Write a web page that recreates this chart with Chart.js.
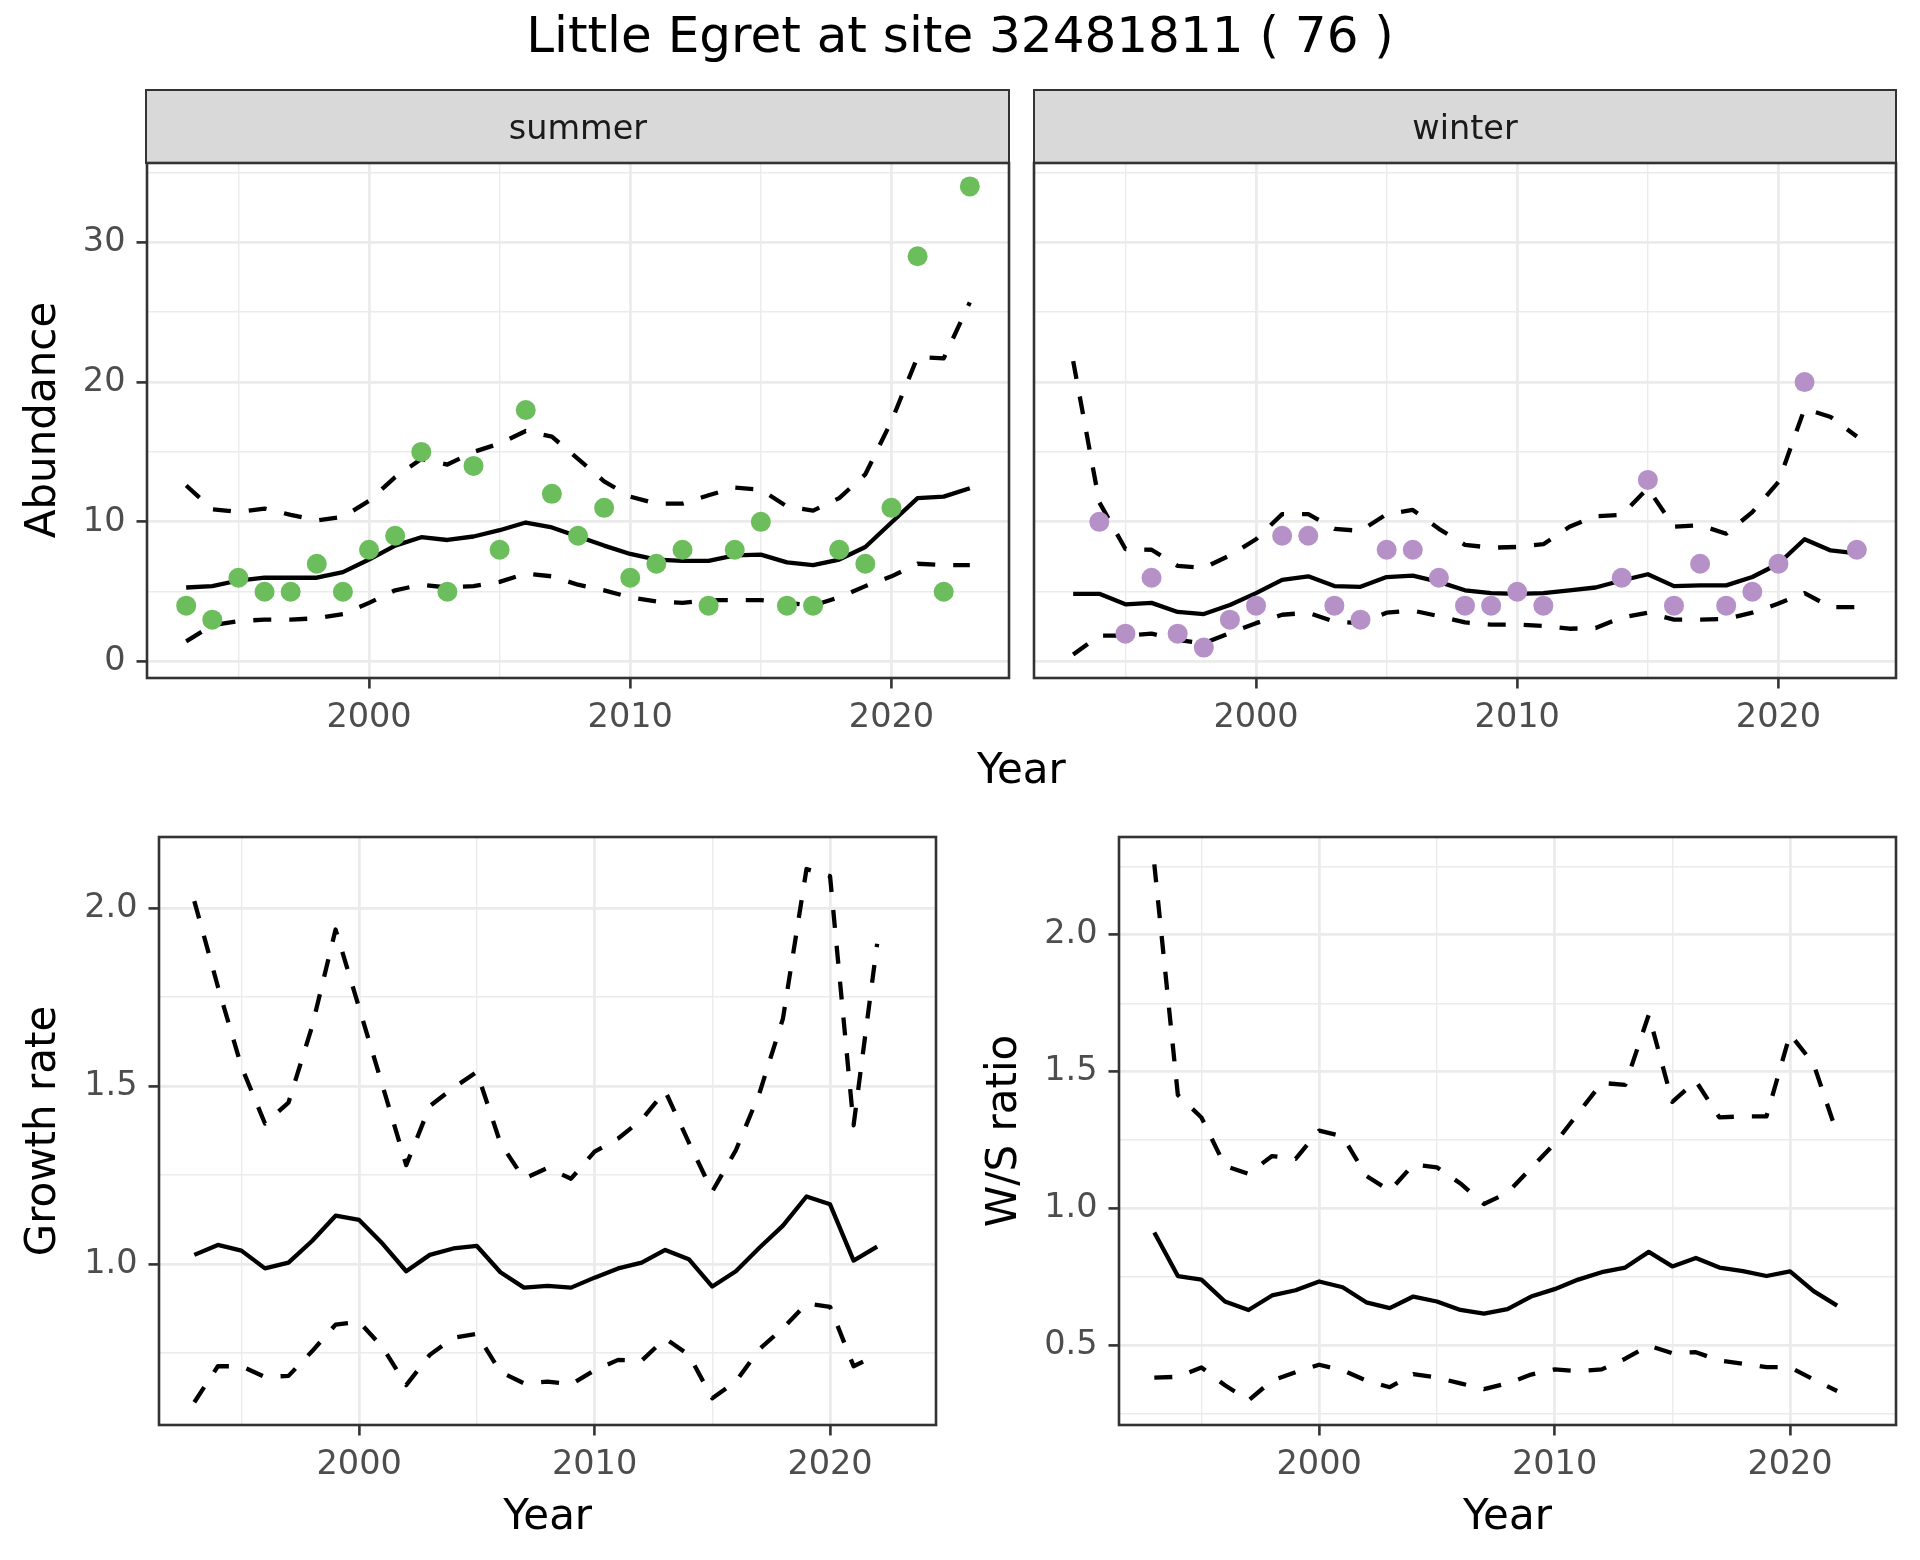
<!DOCTYPE html>
<html>
<head>
<meta charset="utf-8">
<script src="https://cdn.jsdelivr.net/npm/chart.js@4/dist/chart.umd.min.js"></script>
<style>
  body { margin: 0; width: 1920px; height: 1560px; background: #fff; position: relative; overflow: hidden;
         font-family: "DejaVu Sans", sans-serif; }
  canvas, .txt, .strip { position: absolute; }
  .txt { line-height: 1; white-space: nowrap; text-align: center; width: 1000px; color: #000; }
  .strip { background: #d9d9d9; border: 2.6px solid #333; box-sizing: border-box; }
</style>
</head>
<body>
<div class="strip" style="left:145.4px; top:88.7px; width:864.9px; height:75.4px;"></div>
<div class="strip" style="left:1032.7px; top:88.7px; width:864.6px; height:75.4px;"></div>
<canvas id="summer" width="1012" height="640" style="left:6.7px; top:117.8px;"></canvas>
<canvas id="winter" width="882" height="640" style="left:1024px; top:117.8px;"></canvas>
<canvas id="growth" width="937" height="713" style="left:9.3px; top:791.7px;"></canvas>
<canvas id="ratio" width="937" height="713" style="left:969px; top:791.7px;"></canvas>
<script>
// values
const years = [1993, 1994, 1995, 1996, 1997, 1998, 1999, 2000, 2001, 2002, 2003, 2004, 2005, 2006, 2007, 2008,
               2009, 2010, 2011, 2012, 2013, 2014, 2015, 2016, 2017, 2018, 2019, 2020, 2021, 2022, 2023];
const rateYears = [1993, 1994, 1995, 1996, 1997, 1998, 1999, 2000, 2001, 2002, 2003, 2004, 2005, 2006, 2007,
                   2008, 2009, 2010, 2011, 2012, 2013, 2014, 2015, 2016, 2017, 2018, 2019, 2020, 2021, 2022];

const summerCounts = [4, 3, 6, 5, 5, 7, 5, 8, 9, 15, 5, 14, 8, 18, 12, 9, 11, 6, 7, 8, 4, 8, 10, 4, 4, 8, 7, 11, 29, 5, 34];
const summerMean  = [5.3, 5.4, 5.8, 6.0, 6.0, 6.0, 6.4, 7.3, 8.3, 8.9, 8.7, 8.95, 9.4, 9.95, 9.6, 8.95, 8.3, 7.7,
                     7.3, 7.2, 7.2, 7.6, 7.65, 7.1, 6.9, 7.3, 8.2, 9.95, 11.7, 11.8, 12.4];
const summerUpper = [12.6, 10.9, 10.7, 10.95, 10.5, 10.1, 10.35, 11.5, 13.2, 14.5, 14.1, 15.0, 15.6, 16.5, 16.1,
                     14.5, 12.9, 11.8, 11.3, 11.3, 11.9, 12.45, 12.3, 11.1, 10.8, 11.7, 13.4, 17.2, 21.8, 21.7, 25.7];
const summerLower = [1.45, 2.6, 2.9, 3.0, 3.0, 3.1, 3.4, 4.2, 5.1, 5.5, 5.3, 5.4, 5.7, 6.3, 6.1, 5.5, 5.1, 4.6,
                     4.3, 4.2, 4.4, 4.4, 4.4, 4.2, 4.0, 4.6, 5.4, 6.1, 7.0, 6.9, 6.9];

const winterCounts = [null, 10, 2, 6, 2, 1, 3, 4, 9, 9, 4, 3, 8, 8, 6, 4, 4, 5, 4, null, null, 6, 13, 4, 7, 4, 5, 7, 20, null, 8];
const winterMean  = [4.85, 4.85, 4.1, 4.2, 3.55, 3.4, 4.05, 4.9, 5.85, 6.1, 5.4, 5.35, 6.05, 6.15, 5.7, 5.1, 4.9,
                     4.85, 4.9, 5.1, 5.3, 5.8, 6.25, 5.4, 5.45, 5.45, 6.05, 7.0, 8.75, 7.95, 7.75];
const winterUpper = [21.5, 11.4, 8.05, 8.0, 6.85, 6.7, 7.6, 8.75, 10.55, 10.55, 9.5, 9.35, 10.55, 10.85, 9.5, 8.35,
                     8.15, 8.2, 8.4, 9.65, 10.4, 10.5, 12.4, 9.65, 9.75, 9.15, 10.7, 12.85, 18.1, 17.5, 16.1];
const winterLower = [0.5, 1.85, 1.85, 2.0, 1.55, 1.3, 2.05, 2.75, 3.35, 3.5, 2.85, 2.75, 3.5, 3.65, 3.25, 2.8, 2.65,
                     2.65, 2.55, 2.35, 2.4, 3.15, 3.5, 3.0, 3.0, 3.05, 3.5, 4.15, 4.9, 3.9, 3.9];

const growthMean  = [1.026, 1.054, 1.038, 0.988, 1.004, 1.065, 1.136, 1.124, 1.057, 0.98, 1.026, 1.044, 1.051, 0.977,
                     0.934, 0.939, 0.934, 0.962, 0.988, 1.004, 1.04, 1.014, 0.937, 0.98, 1.046, 1.108, 1.19, 1.168, 1.01, 1.049];
const growthUpper = [2.02, 1.78, 1.555, 1.395, 1.454, 1.667, 1.94, 1.72, 1.5, 1.278, 1.444, 1.495, 1.54, 1.34, 1.24,
                     1.27, 1.24, 1.316, 1.353, 1.406, 1.486, 1.342, 1.204, 1.32, 1.48, 1.69, 2.11, 2.09, 1.39, 1.9];
const growthLower = [0.612, 0.713, 0.713, 0.683, 0.686, 0.755, 0.83, 0.838, 0.766, 0.66, 0.745, 0.793, 0.804, 0.697,
                     0.665, 0.67, 0.662, 0.702, 0.731, 0.729, 0.791, 0.745, 0.623, 0.67, 0.761, 0.82, 0.889, 0.88, 0.713, 0.745];

const ratioMean  = [0.913, 0.754, 0.741, 0.661, 0.63, 0.683, 0.702, 0.734, 0.713, 0.658, 0.637, 0.679, 0.661, 0.63,
                    0.617, 0.633, 0.679, 0.706, 0.741, 0.768, 0.785, 0.842, 0.789, 0.82, 0.785, 0.772, 0.754, 0.771, 0.699, 0.646];
const ratioUpper = [2.257, 1.415, 1.333, 1.156, 1.127, 1.192, 1.182, 1.285, 1.264, 1.12, 1.065, 1.161, 1.151, 1.092,
                    1.017, 1.058, 1.148, 1.237, 1.348, 1.459, 1.452, 1.708, 1.39, 1.466, 1.333, 1.337, 1.337, 1.637, 1.528, 1.273];
const ratioLower = [0.383, 0.386, 0.42, 0.355, 0.3, 0.372, 0.403, 0.43, 0.41, 0.372, 0.348, 0.396, 0.383, 0.362,
                    0.341, 0.362, 0.394, 0.413, 0.406, 0.413, 0.452, 0.5, 0.472, 0.476, 0.445, 0.434, 0.421, 0.421, 0.376, 0.334];

// ticks: first list = every grid line, second list = the ones that get a label
const yearTicks = [1995, 2000, 2005, 2010, 2015, 2020];
const yearLabels = [2000, 2010, 2020];
const countTicks = [0, 5, 10, 15, 20, 25, 30, 35];
const countLabels = [0, 10, 20, 30];
const growthTicks = [0.75, 1.0, 1.25, 1.5, 1.75, 2.0];
const growthLabels = [1.0, 1.5, 2.0];
const ratioTicks = [0.25, 0.5, 0.75, 1.0, 1.25, 1.5, 1.75, 2.0, 2.25];
const ratioLabels = [0.5, 1.0, 1.5, 2.0];

const FONT = '"DejaVu Sans", sans-serif';
Chart.defaults.font.family = FONT;

// ggplot style frame round the panel
const panelBox = {
  id: 'panelBox',
  afterDraw(chart) {
    const a = chart.chartArea, ctx = chart.ctx;
    ctx.save();
    ctx.strokeStyle = '#333333';
    ctx.lineWidth = 2.6;
    ctx.strokeRect(a.left, a.top, a.right - a.left, a.bottom - a.top);
    ctx.restore();
  }
};

function pairs(xs, ys) {
  return xs.map((x, i) => ({x: x, y: ys[i]}));
}

function gridFor(labels, showTicks) {
  return {
    color: '#ebebeb',
    lineWidth: c => labels.includes(c.tick.value) ? 2.8 : 1.4,
    drawTicks: showTicks,
    tickLength: 10.5,
    tickWidth: 2.6,
    tickColor: c => labels.includes(c.tick.value) ? '#333333' : 'rgba(0,0,0,0)'
  };
}

function axis(min, max, ticks, labels, fmt, isX, showLabels, size) {
  return {
    type: 'linear', min: min, max: max,
    afterBuildTicks: s => { s.ticks = ticks.map(v => ({value: v})); },
    afterFit: s => { if (isX) s.height = size; else s.width = size; },
    border: {display: false},
    grid: gridFor(labels, showLabels),
    ticks: {
      display: showLabels, autoSkip: false, maxRotation: 0, padding: isX ? 10 : 11,
      color: '#4d4d4d', font: {size: 33.5, family: FONT},
      callback: v => labels.includes(v) ? fmt(v) : ''
    }
  };
}

function bands(xs, mean, upper, lower) {
  const base = {type: 'line', pointRadius: 0, borderColor: '#000', borderWidth: 4.3,
                borderCapStyle: 'butt', borderJoinStyle: 'round', order: 2};
  return [
    Object.assign({}, base, {data: pairs(xs, mean)}),
    Object.assign({}, base, {data: pairs(xs, upper), borderDash: [18, 18]}),
    Object.assign({}, base, {data: pairs(xs, lower), borderDash: [18, 18]})
  ];
}

function dots(xs, ys, colour) {
  return {type: 'line', data: pairs(xs, ys), showLine: false, pointRadius: 10, pointHoverRadius: 10,
          pointBackgroundColor: colour, pointBorderWidth: 0, order: 1};
}

function makeChart(id, datasets, yMin, yMax, yTicks, yLabels, yFmt, yShow, yWidth) {
  new Chart(document.getElementById(id), {
    type: 'line',
    data: {datasets: datasets},
    plugins: [panelBox],
    options: {
      responsive: false, animation: false, devicePixelRatio: 1, events: [],
      layout: {padding: {top: 45, right: 10, left: 0, bottom: 0}},
      plugins: {legend: {display: false}, tooltip: {enabled: false}},
      scales: {
        x: axis(1991.5, 2024.5, yearTicks, yearLabels, v => String(v), true, true, 80),
        y: axis(yMin, yMax, yTicks, yLabels, yFmt, false, yShow, yWidth)
      }
    }
  });
}

const whole = v => String(v);
const oneDp = v => v.toFixed(1);

makeChart('summer', [dots(years, summerCounts, '#6cbd5b')].concat(bands(years, summerMean, summerUpper, summerLower)),
          -1.175, 35.675, countTicks, countLabels, whole, true, 140);
makeChart('winter', [dots(years, winterCounts, '#b591c7')].concat(bands(years, winterMean, winterUpper, winterLower)),
          -1.175, 35.675, countTicks, countLabels, whole, false, 10);
makeChart('growth', bands(rateYears, growthMean, growthUpper, growthLower),
          0.548, 2.2, growthTicks, growthLabels, oneDp, true, 150);
makeChart('ratio', bands(rateYears, ratioMean, ratioUpper, ratioLower),
          0.21, 2.357, ratioTicks, ratioLabels, oneDp, true, 150);

// titles and strip labels as plain text, placed by the centre of their capitals
function addText(str, cx, cy, size, rotated, xHeight) {
  const d = document.createElement('div');
  d.className = 'txt';
  d.textContent = str;
  d.style.fontSize = size + 'px';
  d.style.left = (cx - 500) + 'px';
  if (rotated) {
    d.style.top = (cy - size / 2) + 'px';
    d.style.transform = 'rotate(-90deg)';
  } else {
    d.style.top = (cy - (xHeight ? 0.573 : 0.4815) * size) + 'px';
  }
  if (xHeight) d.style.color = '#1a1a1a';
  document.body.appendChild(d);
}

addText('Little Egret at site 32481811 ( 76 )', 960, 34.3, 50, false, false);
addText('summer', 577.9, 130.3, 33.5, false, true);
addText('winter', 1465, 130.3, 33.5, false, true);
addText('Year', 1021.4, 767.8, 42, false, false);
addText('Abundance', 41.2, 420, 42, true, false);
addText('Growth rate', 41.2, 1131, 42, true, false);
addText('W/S ratio', 1002.4, 1131, 42, true, false);
addText('Year', 547.7, 1514.7, 42, false, false);
addText('Year', 1507.5, 1514.7, 42, false, false);
</script>
</body>
</html>
